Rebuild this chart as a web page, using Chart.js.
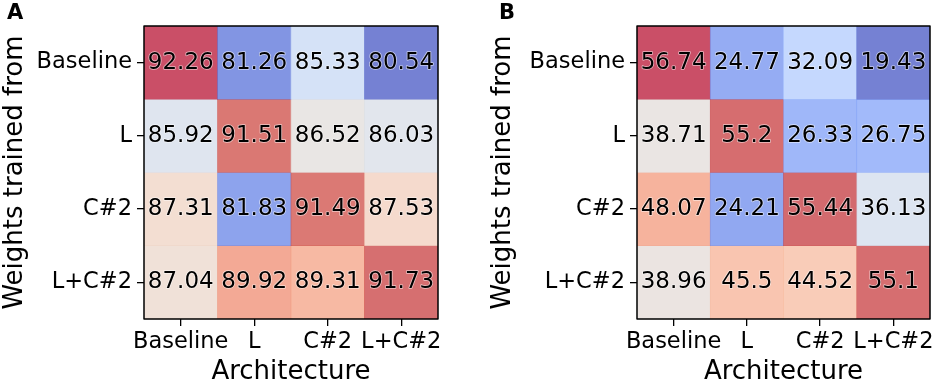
<!DOCTYPE html>
<html><head><meta charset="utf-8">
<script src="https://cdn.jsdelivr.net/npm/chart.js@4/dist/chart.umd.min.js"></script>
<style>
html,body{margin:0;padding:0;background:#fff;width:935px;height:387px;overflow:hidden;font-family:"DejaVu Sans",sans-serif;}
.p{position:absolute;top:0;height:387px;}
.lbl{position:absolute;font-weight:bold;font-size:21px;line-height:21px;color:#000;}
</style></head><body>
<div class="p" style="left:0;width:488px"><canvas id="cA"></canvas></div>
<div class="p" style="left:488px;width:447px"><canvas id="cB"></canvas></div>
<div class="lbl" style="left:7px;top:2px">A</div>
<div class="lbl" style="left:499px;top:2px">B</div>
<script>
// categories
const architectures = ['Baseline', 'L', 'C#2', 'L+C#2'];
const weightsFrom = ['Baseline', 'L', 'C#2', 'L+C#2'];
const panelLetters = ['A', 'B'];
// panel A values (rows = weights trained from, columns = architecture)
const aFromBaseline = [92.26, 81.26, 85.33, 80.54];
const aFromL        = [85.92, 91.51, 86.52, 86.03];
const aFromC2       = [87.31, 81.83, 91.49, 87.53];
const aFromLC2      = [87.04, 89.92, 89.31, 91.73];
// panel B values
const bFromBaseline = [56.74, 24.77, 32.09, 19.43];
const bFromL        = [38.71, 55.2, 26.33, 26.75];
const bFromC2       = [48.07, 24.21, 55.44, 36.13];
const bFromLC2      = [38.96, 45.5, 44.52, 55.1];
const yTickPositions = [0.5, 1.5, 2.5, 3.5];

// matplotlib coolwarm (Moreland) control points
const coolwarm = [
[59,76,192],[68,90,204],[77,104,215],[87,117,225],[98,130,234],[108,142,241],[119,154,247],[130,165,251],
[141,176,254],[152,185,255],[163,194,255],[174,201,253],[184,208,249],[194,213,244],[204,217,238],[213,219,230],
[221,221,221],[229,216,209],[236,211,197],[241,204,185],[245,196,173],[247,187,160],[247,177,148],[247,166,135],
[244,154,123],[241,141,111],[236,127,99],[229,112,88],[222,96,77],[213,80,66],[203,62,56],[192,40,47],[180,4,38]];
function cmap(t){
  t = Math.max(0, Math.min(1, t));
  const f = t * (coolwarm.length - 1);
  const i = Math.min(Math.floor(f), coolwarm.length - 2);
  const u = f - i;
  const c = coolwarm[i].map((v, k) => v + (coolwarm[i+1][k] - v) * u);
  return `rgba(${Math.round(c[0])},${Math.round(c[1])},${Math.round(c[2])},0.7)`;
}

const cellPlugin = {
  id: 'cells',
  afterDatasetsDraw(chart) {
    const {ctx, chartArea, scales: {x, y}} = chart;
    ctx.save();
    ctx.font = '23px "DejaVu Sans"';
    ctx.textAlign = 'center';
    ctx.textBaseline = 'middle';
    ctx.lineJoin = 'round';
    chart.data.datasets.forEach((ds, i) => {
      ds.values.forEach((v, j) => {
        const px = x.getPixelForValue(j);
        const py = y.getPixelForValue(i + 0.5);
        const txt = String(v);
        ctx.strokeStyle = 'rgba(255,255,255,0.6)';
        ctx.lineWidth = 1.5;
        ctx.strokeText(txt, px, py);
        ctx.fillStyle = '#000';
        ctx.fillText(txt, px, py);
      });
    });
    ctx.lineWidth = 1.5;
    ctx.strokeStyle = '#000';
    ctx.strokeRect(chartArea.left, chartArea.top, chartArea.right - chartArea.left, chartArea.bottom - chartArea.top);
    ctx.restore();
  }
};

function makeChart(id, rows, yWidth, padRight) {
  const all = rows.flat();
  const vmin = Math.min(...all), vmax = Math.max(...all);
  const datasets = rows.map((row, i) => ({
    label: weightsFrom[i],
    values: row,
    data: row.map(() => [i, i + 1]),
    backgroundColor: row.map(v => cmap((v - vmin) / (vmax - vmin))),
    borderWidth: 0,
    barPercentage: 1,
    categoryPercentage: 1,
    grouped: false
  }));
  const tickFont = {family: '"DejaVu Sans"', size: 22.5, lineHeight: 1.2};
  const titleFont = {family: '"DejaVu Sans"', size: 26};
  return new Chart(document.getElementById(id), {
    type: 'bar',
    data: {labels: architectures, datasets},
    plugins: [cellPlugin],
    options: {
      responsive: true,
      maintainAspectRatio: false,
      animation: false,
      events: [],
      layout: {padding: {left: 0, top: 26, right: padRight, bottom: 0}},
      plugins: {legend: {display: false}, tooltip: {enabled: false}, title: {display: false}},
      scales: {
        x: {
          type: 'category',
          offset: true,
          grid: {display: true, drawOnChartArea: false, drawTicks: true, tickLength: 7, color: '#000', lineWidth: 1.3, offset: false},
          border: {display: false},
          ticks: {color: '#000', font: tickFont, padding: 3, maxRotation: 0, autoSkip: false},
          title: {display: true, text: 'Architecture', color: '#000', font: {...titleFont, lineHeight: 1.1}, padding: 0},
          afterFit(s) { s.height = 68; s.paddingLeft = 0; s.paddingRight = 0; }
        },
        y: {
          type: 'linear',
          min: 0, max: 4,
          reverse: true,
          afterBuildTicks(s) { s.ticks = yTickPositions.map(v => ({value: v})); },
          grid: {display: true, drawOnChartArea: false, drawTicks: true, tickLength: 7, color: '#000', lineWidth: 1.3},
          border: {display: false},
          ticks: {color: '#000', font: tickFont, padding: 5, callback: (v) => weightsFrom[Math.floor(v)]},
          title: {display: true, text: 'Weights trained from', color: '#000', font: {...titleFont, lineHeight: 1.2}, padding: 0},
          afterFit(s) { s.width = yWidth; s.paddingTop = 0; s.paddingBottom = 0; }
        }
      }
    }
  });
}

makeChart('cA', [aFromBaseline, aFromL, aFromC2, aFromLC2], 144, 50);
makeChart('cB', [bFromBaseline, bFromL, bFromC2, bFromLC2], 149, 5);
</script>
</body></html>
